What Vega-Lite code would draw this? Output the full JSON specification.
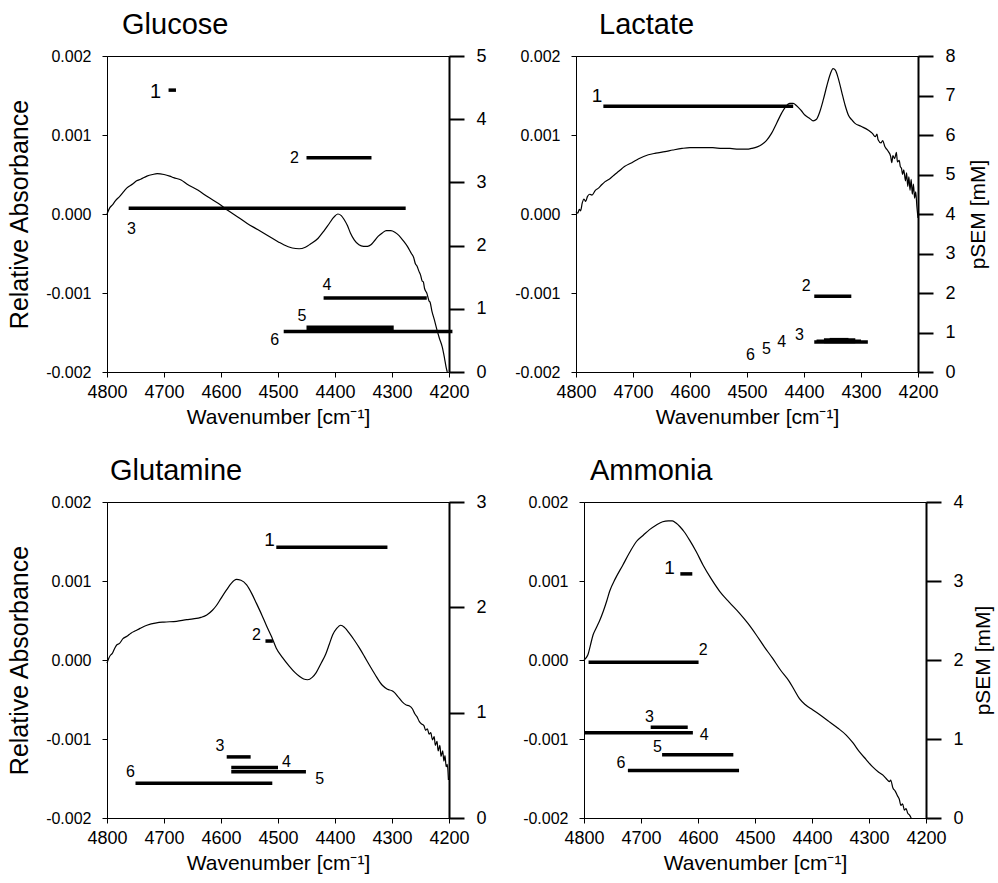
{
"$schema": "https://vega.github.io/schema/vega-lite/v6.json",
"background": "white",
"padding": {"left": 7, "top": 10, "right": 2, "bottom": 5},
"datasets": {
"spectra": [
{"p":"Glucose","wn":4800,"a":0.0},{"p":"Glucose","wn":4795,"a":0.00008},{"p":"Glucose","wn":4790,"a":0.00012},{"p":"Glucose","wn":4785,"a":0.00017},{"p":"Glucose","wn":4778,"a":0.00022},{"p":"Glucose","wn":4770,"a":0.00029},{"p":"Glucose","wn":4765,"a":0.00033},{"p":"Glucose","wn":4755,"a":0.00038},{"p":"Glucose","wn":4748,"a":0.00042},{"p":"Glucose","wn":4741,"a":0.00044},{"p":"Glucose","wn":4730,"a":0.00048},{"p":"Glucose","wn":4720,"a":0.0005},{"p":"Glucose","wn":4712,"a":0.00051},{"p":"Glucose","wn":4700,"a":0.0005},{"p":"Glucose","wn":4690,"a":0.00048},{"p":"Glucose","wn":4683,"a":0.00046},{"p":"Glucose","wn":4670,"a":0.00043},{"p":"Glucose","wn":4660,"a":0.00038},{"p":"Glucose","wn":4640,"a":0.0003},{"p":"Glucose","wn":4624,"a":0.00022},{"p":"Glucose","wn":4600,"a":0.00011},{"p":"Glucose","wn":4589,"a":0.00005},{"p":"Glucose","wn":4570,"a":-0.00004},{"p":"Glucose","wn":4554,"a":-0.00012},{"p":"Glucose","wn":4535,"a":-0.0002},{"p":"Glucose","wn":4519,"a":-0.00027},{"p":"Glucose","wn":4500,"a":-0.00035},{"p":"Glucose","wn":4490,"a":-0.00039},{"p":"Glucose","wn":4475,"a":-0.00043},{"p":"Glucose","wn":4463,"a":-0.00044},{"p":"Glucose","wn":4452,"a":-0.00042},{"p":"Glucose","wn":4443,"a":-0.00038},{"p":"Glucose","wn":4430,"a":-0.00031},{"p":"Glucose","wn":4419,"a":-0.00021},{"p":"Glucose","wn":4410,"a":-0.00012},{"p":"Glucose","wn":4402,"a":-0.00004},{"p":"Glucose","wn":4395,"a":0.0},{"p":"Glucose","wn":4389,"a":-0.00002},{"p":"Glucose","wn":4384,"a":-0.00007},{"p":"Glucose","wn":4378,"a":-0.00015},{"p":"Glucose","wn":4373,"a":-0.00024},{"p":"Glucose","wn":4366,"a":-0.00033},{"p":"Glucose","wn":4358,"a":-0.00039},{"p":"Glucose","wn":4350,"a":-0.00041},{"p":"Glucose","wn":4343,"a":-0.00041},{"p":"Glucose","wn":4337,"a":-0.00039},{"p":"Glucose","wn":4332,"a":-0.00035},{"p":"Glucose","wn":4324,"a":-0.00028},{"p":"Glucose","wn":4317,"a":-0.00024},{"p":"Glucose","wn":4310,"a":-0.00021},{"p":"Glucose","wn":4302,"a":-0.00021},{"p":"Glucose","wn":4295,"a":-0.00023},{"p":"Glucose","wn":4288,"a":-0.00027},{"p":"Glucose","wn":4280,"a":-0.00034},{"p":"Glucose","wn":4273,"a":-0.00041},{"p":"Glucose","wn":4266,"a":-0.0005},{"p":"Glucose","wn":4262,"a":-0.00055},{"p":"Glucose","wn":4259,"a":-0.00063},{"p":"Glucose","wn":4256,"a":-0.00066},{"p":"Glucose","wn":4253,"a":-0.00072},{"p":"Glucose","wn":4250,"a":-0.00077},{"p":"Glucose","wn":4247,"a":-0.00085},{"p":"Glucose","wn":4245,"a":-0.00086},{"p":"Glucose","wn":4243,"a":-0.00094},{"p":"Glucose","wn":4239,"a":-0.001},{"p":"Glucose","wn":4235,"a":-0.0011},{"p":"Glucose","wn":4233,"a":-0.00112},{"p":"Glucose","wn":4230,"a":-0.00123},{"p":"Glucose","wn":4226,"a":-0.00133},{"p":"Glucose","wn":4221,"a":-0.00147},{"p":"Glucose","wn":4217,"a":-0.00157},{"p":"Glucose","wn":4212,"a":-0.00168},{"p":"Glucose","wn":4208,"a":-0.00182},{"p":"Glucose","wn":4205,"a":-0.00194},{"p":"Glucose","wn":4203,"a":-0.002},
{"p":"Lactate","wn":4800,"a":0.00003},{"p":"Lactate","wn":4797,"a":0.00001},{"p":"Lactate","wn":4794,"a":0.00006},{"p":"Lactate","wn":4792,"a":0.00004},{"p":"Lactate","wn":4789,"a":0.00014},{"p":"Lactate","wn":4786,"a":0.00019},{"p":"Lactate","wn":4783,"a":0.00016},{"p":"Lactate","wn":4780,"a":0.00022},{"p":"Lactate","wn":4776,"a":0.00025},{"p":"Lactate","wn":4772,"a":0.00024},{"p":"Lactate","wn":4766,"a":0.0003},{"p":"Lactate","wn":4760,"a":0.00033},{"p":"Lactate","wn":4755,"a":0.00037},{"p":"Lactate","wn":4749,"a":0.00041},{"p":"Lactate","wn":4740,"a":0.00045},{"p":"Lactate","wn":4732,"a":0.0005},{"p":"Lactate","wn":4725,"a":0.00054},{"p":"Lactate","wn":4715,"a":0.0006},{"p":"Lactate","wn":4702,"a":0.00065},{"p":"Lactate","wn":4690,"a":0.0007},{"p":"Lactate","wn":4673,"a":0.00075},{"p":"Lactate","wn":4660,"a":0.00077},{"p":"Lactate","wn":4644,"a":0.00079},{"p":"Lactate","wn":4630,"a":0.00081},{"p":"Lactate","wn":4614,"a":0.00083},{"p":"Lactate","wn":4600,"a":0.00084},{"p":"Lactate","wn":4579,"a":0.00084},{"p":"Lactate","wn":4560,"a":0.00084},{"p":"Lactate","wn":4544,"a":0.00083},{"p":"Lactate","wn":4530,"a":0.00083},{"p":"Lactate","wn":4515,"a":0.00082},{"p":"Lactate","wn":4500,"a":0.00082},{"p":"Lactate","wn":4492,"a":0.00083},{"p":"Lactate","wn":4482,"a":0.00085},{"p":"Lactate","wn":4474,"a":0.00088},{"p":"Lactate","wn":4466,"a":0.00093},{"p":"Lactate","wn":4457,"a":0.00102},{"p":"Lactate","wn":4448,"a":0.00115},{"p":"Lactate","wn":4439,"a":0.00128},{"p":"Lactate","wn":4432,"a":0.00136},{"p":"Lactate","wn":4425,"a":0.0014},{"p":"Lactate","wn":4419,"a":0.0014},{"p":"Lactate","wn":4413,"a":0.00137},{"p":"Lactate","wn":4405,"a":0.00131},{"p":"Lactate","wn":4398,"a":0.00125},{"p":"Lactate","wn":4390,"a":0.00121},{"p":"Lactate","wn":4384,"a":0.00118},{"p":"Lactate","wn":4378,"a":0.0012},{"p":"Lactate","wn":4372,"a":0.0013},{"p":"Lactate","wn":4366,"a":0.00145},{"p":"Lactate","wn":4360,"a":0.00162},{"p":"Lactate","wn":4354,"a":0.00177},{"p":"Lactate","wn":4349,"a":0.00184},{"p":"Lactate","wn":4345,"a":0.00182},{"p":"Lactate","wn":4340,"a":0.00172},{"p":"Lactate","wn":4334,"a":0.00155},{"p":"Lactate","wn":4328,"a":0.00138},{"p":"Lactate","wn":4322,"a":0.00125},{"p":"Lactate","wn":4316,"a":0.00119},{"p":"Lactate","wn":4311,"a":0.00115},{"p":"Lactate","wn":4300,"a":0.00111},{"p":"Lactate","wn":4287,"a":0.00106},{"p":"Lactate","wn":4280,"a":0.00102},{"p":"Lactate","wn":4275,"a":0.00098},{"p":"Lactate","wn":4272,"a":0.00101},{"p":"Lactate","wn":4270,"a":0.00094},{"p":"Lactate","wn":4265,"a":0.0009},{"p":"Lactate","wn":4262,"a":0.00093},{"p":"Lactate","wn":4258,"a":0.00085},{"p":"Lactate","wn":4255,"a":0.00082},{"p":"Lactate","wn":4252,"a":0.00079},{"p":"Lactate","wn":4248,"a":0.00073},{"p":"Lactate","wn":4246,"a":0.00065},{"p":"Lactate","wn":4244,"a":0.00074},{"p":"Lactate","wn":4241,"a":0.0007},{"p":"Lactate","wn":4238,"a":0.00078},{"p":"Lactate","wn":4236,"a":0.00066},{"p":"Lactate","wn":4233,"a":0.00068},{"p":"Lactate","wn":4231,"a":0.0006},{"p":"Lactate","wn":4229,"a":0.00058},{"p":"Lactate","wn":4227,"a":0.0005},{"p":"Lactate","wn":4225,"a":0.00056},{"p":"Lactate","wn":4222,"a":0.00042},{"p":"Lactate","wn":4220,"a":0.00052},{"p":"Lactate","wn":4218,"a":0.00035},{"p":"Lactate","wn":4216,"a":0.00047},{"p":"Lactate","wn":4214,"a":0.0003},{"p":"Lactate","wn":4212,"a":0.00044},{"p":"Lactate","wn":4210,"a":0.00025},{"p":"Lactate","wn":4208,"a":0.00038},{"p":"Lactate","wn":4206,"a":0.0002},{"p":"Lactate","wn":4204,"a":0.00028},{"p":"Lactate","wn":4202,"a":0.0001},{"p":"Lactate","wn":4200,"a":-0.00005},
{"p":"Glutamine","wn":4800,"a":-0.00004},{"p":"Glutamine","wn":4797,"a":0.00002},{"p":"Glutamine","wn":4794,"a":0.00006},{"p":"Glutamine","wn":4791,"a":0.00008},{"p":"Glutamine","wn":4787,"a":0.00014},{"p":"Glutamine","wn":4783,"a":0.00019},{"p":"Glutamine","wn":4778,"a":0.00021},{"p":"Glutamine","wn":4772,"a":0.00027},{"p":"Glutamine","wn":4765,"a":0.0003},{"p":"Glutamine","wn":4758,"a":0.00034},{"p":"Glutamine","wn":4750,"a":0.00037},{"p":"Glutamine","wn":4742,"a":0.0004},{"p":"Glutamine","wn":4730,"a":0.00044},{"p":"Glutamine","wn":4713,"a":0.00047},{"p":"Glutamine","wn":4700,"a":0.00048},{"p":"Glutamine","wn":4678,"a":0.00049},{"p":"Glutamine","wn":4660,"a":0.00051},{"p":"Glutamine","wn":4649,"a":0.00052},{"p":"Glutamine","wn":4635,"a":0.00054},{"p":"Glutamine","wn":4625,"a":0.00057},{"p":"Glutamine","wn":4615,"a":0.00063},{"p":"Glutamine","wn":4608,"a":0.00069},{"p":"Glutamine","wn":4600,"a":0.00078},{"p":"Glutamine","wn":4590,"a":0.00089},{"p":"Glutamine","wn":4582,"a":0.00097},{"p":"Glutamine","wn":4573,"a":0.00102},{"p":"Glutamine","wn":4565,"a":0.00101},{"p":"Glutamine","wn":4555,"a":0.00095},{"p":"Glutamine","wn":4546,"a":0.00084},{"p":"Glutamine","wn":4538,"a":0.00072},{"p":"Glutamine","wn":4529,"a":0.00058},{"p":"Glutamine","wn":4520,"a":0.00043},{"p":"Glutamine","wn":4511,"a":0.00029},{"p":"Glutamine","wn":4503,"a":0.00015},{"p":"Glutamine","wn":4492,"a":0.00003},{"p":"Glutamine","wn":4480,"a":-0.00008},{"p":"Glutamine","wn":4470,"a":-0.00016},{"p":"Glutamine","wn":4462,"a":-0.00021},{"p":"Glutamine","wn":4455,"a":-0.00024},{"p":"Glutamine","wn":4448,"a":-0.00025},{"p":"Glutamine","wn":4440,"a":-0.00022},{"p":"Glutamine","wn":4433,"a":-0.00016},{"p":"Glutamine","wn":4425,"a":-0.00005},{"p":"Glutamine","wn":4416,"a":0.00008},{"p":"Glutamine","wn":4410,"a":0.0002},{"p":"Glutamine","wn":4404,"a":0.00032},{"p":"Glutamine","wn":4397,"a":0.0004},{"p":"Glutamine","wn":4390,"a":0.00044},{"p":"Glutamine","wn":4383,"a":0.00041},{"p":"Glutamine","wn":4375,"a":0.00034},{"p":"Glutamine","wn":4366,"a":0.00025},{"p":"Glutamine","wn":4357,"a":0.00015},{"p":"Glutamine","wn":4348,"a":0.00004},{"p":"Glutamine","wn":4340,"a":-0.00006},{"p":"Glutamine","wn":4330,"a":-0.00018},{"p":"Glutamine","wn":4317,"a":-0.00032},{"p":"Glutamine","wn":4308,"a":-0.00037},{"p":"Glutamine","wn":4300,"a":-0.00039},{"p":"Glutamine","wn":4296,"a":-0.00041},{"p":"Glutamine","wn":4290,"a":-0.00046},{"p":"Glutamine","wn":4282,"a":-0.00053},{"p":"Glutamine","wn":4275,"a":-0.00057},{"p":"Glutamine","wn":4270,"a":-0.00058},{"p":"Glutamine","wn":4264,"a":-0.00062},{"p":"Glutamine","wn":4260,"a":-0.00068},{"p":"Glutamine","wn":4256,"a":-0.00072},{"p":"Glutamine","wn":4252,"a":-0.00078},{"p":"Glutamine","wn":4248,"a":-0.00081},{"p":"Glutamine","wn":4244,"a":-0.00083},{"p":"Glutamine","wn":4241,"a":-0.00089},{"p":"Glutamine","wn":4238,"a":-0.00087},{"p":"Glutamine","wn":4235,"a":-0.00094},{"p":"Glutamine","wn":4232,"a":-0.00092},{"p":"Glutamine","wn":4229,"a":-0.00101},{"p":"Glutamine","wn":4226,"a":-0.00097},{"p":"Glutamine","wn":4224,"a":-0.00108},{"p":"Glutamine","wn":4221,"a":-0.00103},{"p":"Glutamine","wn":4219,"a":-0.00115},{"p":"Glutamine","wn":4216,"a":-0.00108},{"p":"Glutamine","wn":4214,"a":-0.00122},{"p":"Glutamine","wn":4211,"a":-0.00115},{"p":"Glutamine","wn":4209,"a":-0.00128},{"p":"Glutamine","wn":4207,"a":-0.00121},{"p":"Glutamine","wn":4205,"a":-0.00135},{"p":"Glutamine","wn":4203,"a":-0.00132},{"p":"Glutamine","wn":4201,"a":-0.00152},
{"p":"Ammonia","wn":4800,"a":0.0},{"p":"Ammonia","wn":4796,"a":0.00003},{"p":"Ammonia","wn":4793,"a":0.00007},{"p":"Ammonia","wn":4789,"a":0.00018},{"p":"Ammonia","wn":4784,"a":0.00032},{"p":"Ammonia","wn":4779,"a":0.0004},{"p":"Ammonia","wn":4773,"a":0.00049},{"p":"Ammonia","wn":4766,"a":0.00062},{"p":"Ammonia","wn":4760,"a":0.00075},{"p":"Ammonia","wn":4755,"a":0.00087},{"p":"Ammonia","wn":4745,"a":0.00103},{"p":"Ammonia","wn":4732,"a":0.0012},{"p":"Ammonia","wn":4720,"a":0.00136},{"p":"Ammonia","wn":4708,"a":0.0015},{"p":"Ammonia","wn":4696,"a":0.00158},{"p":"Ammonia","wn":4685,"a":0.00165},{"p":"Ammonia","wn":4673,"a":0.00171},{"p":"Ammonia","wn":4662,"a":0.00175},{"p":"Ammonia","wn":4652,"a":0.00176},{"p":"Ammonia","wn":4645,"a":0.00176},{"p":"Ammonia","wn":4638,"a":0.00173},{"p":"Ammonia","wn":4632,"a":0.00169},{"p":"Ammonia","wn":4624,"a":0.00162},{"p":"Ammonia","wn":4615,"a":0.00152},{"p":"Ammonia","wn":4603,"a":0.00137},{"p":"Ammonia","wn":4591,"a":0.0012},{"p":"Ammonia","wn":4577,"a":0.00103},{"p":"Ammonia","wn":4562,"a":0.00087},{"p":"Ammonia","wn":4545,"a":0.00073},{"p":"Ammonia","wn":4527,"a":0.00059},{"p":"Ammonia","wn":4512,"a":0.00046},{"p":"Ammonia","wn":4498,"a":0.00032},{"p":"Ammonia","wn":4484,"a":0.00017},{"p":"Ammonia","wn":4469,"a":0.00002},{"p":"Ammonia","wn":4455,"a":-0.00013},{"p":"Ammonia","wn":4440,"a":-0.00027},{"p":"Ammonia","wn":4431,"a":-0.00038},{"p":"Ammonia","wn":4422,"a":-0.00049},{"p":"Ammonia","wn":4411,"a":-0.00057},{"p":"Ammonia","wn":4399,"a":-0.00063},{"p":"Ammonia","wn":4385,"a":-0.0007},{"p":"Ammonia","wn":4370,"a":-0.00078},{"p":"Ammonia","wn":4355,"a":-0.00086},{"p":"Ammonia","wn":4340,"a":-0.00095},{"p":"Ammonia","wn":4328,"a":-0.00105},{"p":"Ammonia","wn":4317,"a":-0.00116},{"p":"Ammonia","wn":4305,"a":-0.00126},{"p":"Ammonia","wn":4294,"a":-0.00135},{"p":"Ammonia","wn":4283,"a":-0.00142},{"p":"Ammonia","wn":4275,"a":-0.00146},{"p":"Ammonia","wn":4270,"a":-0.0015},{"p":"Ammonia","wn":4264,"a":-0.00154},{"p":"Ammonia","wn":4262,"a":-0.00152},{"p":"Ammonia","wn":4258,"a":-0.00162},{"p":"Ammonia","wn":4254,"a":-0.00166},{"p":"Ammonia","wn":4250,"a":-0.00172},{"p":"Ammonia","wn":4247,"a":-0.00176},{"p":"Ammonia","wn":4244,"a":-0.00184},{"p":"Ammonia","wn":4241,"a":-0.00182},{"p":"Ammonia","wn":4238,"a":-0.0019},{"p":"Ammonia","wn":4235,"a":-0.00188},{"p":"Ammonia","wn":4232,"a":-0.00194},{"p":"Ammonia","wn":4229,"a":-0.00196},{"p":"Ammonia","wn":4226,"a":-0.002}
],
"bars": [
{"p":"Glucose","n":"1","x1":4692,"x2":4679,"y":4.46,"lx":4715,"ly":4.43},
{"p":"Glucose","n":"2","x1":4450,"x2":4336,"y":3.39,"lx":4471,"ly":3.38},
{"p":"Glucose","n":"3","x1":4762,"x2":4276,"y":2.59,"lx":4757,"ly":2.26},
{"p":"Glucose","n":"4","x1":4420,"x2":4239,"y":1.17,"lx":4414,"ly":1.38},
{"p":"Glucose","n":"5","x1":4450,"x2":4297,"y":0.69,"lx":4458,"ly":0.89},
{"p":"Glucose","n":"6","x1":4490,"x2":4194,"y":0.64,"lx":4506,"ly":0.5},
{"p":"Lactate","n":"1","x1":4752,"x2":4419,"y":6.73,"lx":4763,"ly":6.98},
{"p":"Lactate","n":"2","x1":4382,"x2":4317,"y":1.92,"lx":4396,"ly":2.17},
{"p":"Lactate","n":"3","x1":4382,"x2":4288,"y":0.76,"lx":4408,"ly":0.93},
{"p":"Lactate","n":"4","x1":4378,"x2":4300,"y":0.78,"lx":4439,"ly":0.76},
{"p":"Lactate","n":"5","x1":4365,"x2":4310,"y":0.79,"lx":4466,"ly":0.59},
{"p":"Lactate","n":"6","x1":4355,"x2":4322,"y":0.8,"lx":4494,"ly":0.44},
{"p":"Glutamine","n":"1","x1":4503,"x2":4308,"y":2.57,"lx":4515,"ly":2.64},
{"p":"Glutamine","n":"2","x1":4522,"x2":4509,"y":1.68,"lx":4538,"ly":1.74},
{"p":"Glutamine","n":"3","x1":4590,"x2":4548,"y":0.58,"lx":4602,"ly":0.68},
{"p":"Glutamine","n":"4","x1":4582,"x2":4500,"y":0.48,"lx":4485,"ly":0.53},
{"p":"Glutamine","n":"5","x1":4582,"x2":4451,"y":0.44,"lx":4427,"ly":0.37},
{"p":"Glutamine","n":"6","x1":4750,"x2":4510,"y":0.33,"lx":4759,"ly":0.44},
{"p":"Ammonia","n":"1","x1":4631,"x2":4610,"y":3.09,"lx":4650,"ly":3.16},
{"p":"Ammonia","n":"2","x1":4792,"x2":4599,"y":1.97,"lx":4591,"ly":2.13},
{"p":"Ammonia","n":"3","x1":4683,"x2":4618,"y":1.15,"lx":4685,"ly":1.28},
{"p":"Ammonia","n":"4","x1":4800,"x2":4609,"y":1.08,"lx":4589,"ly":1.05},
{"p":"Ammonia","n":"5","x1":4663,"x2":4538,"y":0.8,"lx":4671,"ly":0.9},
{"p":"Ammonia","n":"6","x1":4723,"x2":4528,"y":0.6,"lx":4735,"ly":0.69}
]
},
"spacing": 28,
"vconcat": [
{"spacing": 27, "hconcat": [
{"width": 342, "height": 316, "title": {"text": "Glucose", "dx": 15},
 "layer": [
  {"data": {"name": "spectra"}, "transform": [{"filter": "datum.p == 'Glucose'"}],
   "mark": {"type": "line", "color": "black", "strokeWidth": 1.2, "interpolate": "monotone"},
   "encoding": {
    "x": {"field": "wn", "type": "quantitative", "scale": {"domain": [4200, 4800], "reverse": true, "nice": false, "zero": false},
      "axis": {"orient": "bottom", "values": [4800,4700,4600,4500,4400,4300,4200], "labelExpr": "format(datum.value, '.0f')", "labelFontSize": 18, "tickSize": 5, "labelPadding": 6, "labelFlush": false, "labelOverlap": false, "title": "Wavenumber [cm⁻¹]", "titleFontSize": 21, "titlePadding": 5}},
    "y": {"field": "a", "type": "quantitative", "scale": {"domain": [-0.002, 0.002], "nice": false, "zero": false},
      "axis": {"orient": "left", "values": [-0.002,-0.001,0,0.001,0.002], "labelExpr": "datum.value < 0 ? '-' + format(-datum.value, '.3f') : format(datum.value, '.3f')", "labelFontSize": 16, "tickSize": 5, "labelPadding": 11, "labelFlush": false, "labelOverlap": false, "title": "Relative Absorbance", "titleFontSize": 25, "titlePadding": 13}}
   }},
  {"data": {"name": "bars"}, "transform": [{"filter": "datum.p == 'Glucose'"}],
   "mark": {"type": "rule", "color": "black", "strokeCap": "butt"},
   "encoding": {
    "x": {"field": "x1", "type": "quantitative"},
    "x2": {"field": "x2"},
    "y": {"field": "y", "type": "quantitative", "scale": {"domain": [0, 5], "nice": false},
      "axis": {"orient": "right", "values": [0,1,2,3,4,5], "labelExpr": "format(datum.value, '.0f')", "labelFontSize": 18, "tickSize": 15, "labelPadding": 12, "domainWidth": 2, "tickWidth": 2, "labelFlush": false, "labelOverlap": false, "title": null}},
    "strokeWidth": {"condition": {"test": "datum.n == '5'", "value": 6}, "value": 3.5}
   }},
  {"data": {"name": "bars"}, "transform": [{"filter": "datum.p == 'Glucose'"}],
   "mark": {"type": "text", "color": "black"},
   "encoding": {
    "x": {"field": "lx", "type": "quantitative"},
    "y": {"field": "ly", "type": "quantitative", "scale": {"domain": [0, 5], "nice": false}, "axis": null},
    "text": {"field": "n"},
    "size": {"condition": {"test": "datum.n == '1'", "value": 20}, "value": 16}
   }}
 ],
 "resolve": {"scale": {"y": "independent"}}
},
{"width": 342, "height": 316, "title": {"text": "Lactate", "dx": 23},
 "layer": [
  {"data": {"name": "spectra"}, "transform": [{"filter": "datum.p == 'Lactate'"}],
   "mark": {"type": "line", "color": "black", "strokeWidth": 1.2, "interpolate": "monotone"},
   "encoding": {
    "x": {"field": "wn", "type": "quantitative", "scale": {"domain": [4200, 4800], "reverse": true, "nice": false, "zero": false},
      "axis": {"orient": "bottom", "values": [4800,4700,4600,4500,4400,4300,4200], "labelExpr": "format(datum.value, '.0f')", "labelFontSize": 18, "tickSize": 5, "labelPadding": 6, "labelFlush": false, "labelOverlap": false, "title": "Wavenumber [cm⁻¹]", "titleFontSize": 21, "titlePadding": 5}},
    "y": {"field": "a", "type": "quantitative", "scale": {"domain": [-0.002, 0.002], "nice": false, "zero": false},
      "axis": {"orient": "left", "values": [-0.002,-0.001,0,0.001,0.002], "labelExpr": "datum.value < 0 ? '-' + format(-datum.value, '.3f') : format(datum.value, '.3f')", "labelFontSize": 16, "tickSize": 5, "labelPadding": 11, "labelFlush": false, "labelOverlap": false, "title": null}}
   }},
  {"data": {"name": "bars"}, "transform": [{"filter": "datum.p == 'Lactate'"}],
   "mark": {"type": "rule", "color": "black", "strokeCap": "butt"},
   "encoding": {
    "x": {"field": "x1", "type": "quantitative"},
    "x2": {"field": "x2"},
    "y": {"field": "y", "type": "quantitative", "scale": {"domain": [0, 8], "nice": false},
      "axis": {"orient": "right", "values": [0,1,2,3,4,5,6,7,8], "labelExpr": "format(datum.value, '.0f')", "labelFontSize": 18, "tickSize": 15, "labelPadding": 12, "domainWidth": 2, "tickWidth": 2, "labelFlush": false, "labelOverlap": false, "title": "pSEM [mM]", "titleFontSize": 21, "titleAngle": 270, "titleBaseline": "top", "titlePadding": 12}},
    "strokeWidth": {"condition": {"test": "datum.n == '5' || datum.n == '6'", "value": 5}, "value": 3.5}
   }},
  {"data": {"name": "bars"}, "transform": [{"filter": "datum.p == 'Lactate'"}],
   "mark": {"type": "text", "color": "black"},
   "encoding": {
    "x": {"field": "lx", "type": "quantitative"},
    "y": {"field": "ly", "type": "quantitative", "scale": {"domain": [0, 8], "nice": false}, "axis": null},
    "text": {"field": "n"},
    "size": {"condition": {"test": "datum.n == '1'", "value": 19}, "value": 16}
   }}
 ],
 "resolve": {"scale": {"y": "independent"}}
}
]},
{"spacing": 35, "hconcat": [
{"width": 342, "height": 316, "title": {"text": "Glutamine", "dx": 3},
 "layer": [
  {"data": {"name": "spectra"}, "transform": [{"filter": "datum.p == 'Glutamine'"}],
   "mark": {"type": "line", "color": "black", "strokeWidth": 1.2, "interpolate": "monotone"},
   "encoding": {
    "x": {"field": "wn", "type": "quantitative", "scale": {"domain": [4200, 4800], "reverse": true, "nice": false, "zero": false},
      "axis": {"orient": "bottom", "values": [4800,4700,4600,4500,4400,4300,4200], "labelExpr": "format(datum.value, '.0f')", "labelFontSize": 18, "tickSize": 5, "labelPadding": 6, "labelFlush": false, "labelOverlap": false, "title": "Wavenumber [cm⁻¹]", "titleFontSize": 21, "titlePadding": 5}},
    "y": {"field": "a", "type": "quantitative", "scale": {"domain": [-0.002, 0.002], "nice": false, "zero": false},
      "axis": {"orient": "left", "values": [-0.002,-0.001,0,0.001,0.002], "labelExpr": "datum.value < 0 ? '-' + format(-datum.value, '.3f') : format(datum.value, '.3f')", "labelFontSize": 16, "tickSize": 5, "labelPadding": 11, "labelFlush": false, "labelOverlap": false, "title": "Relative Absorbance", "titleFontSize": 25, "titlePadding": 13}}
   }},
  {"data": {"name": "bars"}, "transform": [{"filter": "datum.p == 'Glutamine'"}],
   "mark": {"type": "rule", "color": "black", "strokeCap": "butt", "strokeWidth": 3.5},
   "encoding": {
    "x": {"field": "x1", "type": "quantitative"},
    "x2": {"field": "x2"},
    "y": {"field": "y", "type": "quantitative", "scale": {"domain": [0, 3], "nice": false},
      "axis": {"orient": "right", "values": [0,1,2,3], "labelExpr": "format(datum.value, '.0f')", "labelFontSize": 18, "tickSize": 15, "labelPadding": 12, "domainWidth": 2, "tickWidth": 2, "labelFlush": false, "labelOverlap": false, "title": null}}
   }},
  {"data": {"name": "bars"}, "transform": [{"filter": "datum.p == 'Glutamine'"}],
   "mark": {"type": "text", "color": "black"},
   "encoding": {
    "x": {"field": "lx", "type": "quantitative"},
    "y": {"field": "ly", "type": "quantitative", "scale": {"domain": [0, 3], "nice": false}, "axis": null},
    "text": {"field": "n"},
    "size": {"condition": {"test": "datum.n == '1'", "value": 19}, "value": 16}
   }}
 ],
 "resolve": {"scale": {"y": "independent"}}
},
{"width": 342, "height": 316, "title": {"text": "Ammonia", "dx": 6},
 "layer": [
  {"data": {"name": "spectra"}, "transform": [{"filter": "datum.p == 'Ammonia'"}],
   "mark": {"type": "line", "color": "black", "strokeWidth": 1.2, "interpolate": "monotone"},
   "encoding": {
    "x": {"field": "wn", "type": "quantitative", "scale": {"domain": [4200, 4800], "reverse": true, "nice": false, "zero": false},
      "axis": {"orient": "bottom", "values": [4800,4700,4600,4500,4400,4300,4200], "labelExpr": "format(datum.value, '.0f')", "labelFontSize": 18, "tickSize": 5, "labelPadding": 6, "labelFlush": false, "labelOverlap": false, "title": "Wavenumber [cm⁻¹]", "titleFontSize": 21, "titlePadding": 5}},
    "y": {"field": "a", "type": "quantitative", "scale": {"domain": [-0.002, 0.002], "nice": false, "zero": false},
      "axis": {"orient": "left", "values": [-0.002,-0.001,0,0.001,0.002], "labelExpr": "datum.value < 0 ? '-' + format(-datum.value, '.3f') : format(datum.value, '.3f')", "labelFontSize": 16, "tickSize": 5, "labelPadding": 11, "labelFlush": false, "labelOverlap": false, "title": null}}
   }},
  {"data": {"name": "bars"}, "transform": [{"filter": "datum.p == 'Ammonia'"}],
   "mark": {"type": "rule", "color": "black", "strokeCap": "butt", "strokeWidth": 3.5},
   "encoding": {
    "x": {"field": "x1", "type": "quantitative"},
    "x2": {"field": "x2"},
    "y": {"field": "y", "type": "quantitative", "scale": {"domain": [0, 4], "nice": false},
      "axis": {"orient": "right", "values": [0,1,2,3,4], "labelExpr": "format(datum.value, '.0f')", "labelFontSize": 18, "tickSize": 15, "labelPadding": 12, "domainWidth": 2, "tickWidth": 2, "labelFlush": false, "labelOverlap": false, "title": "pSEM [mM]", "titleFontSize": 21, "titleAngle": 270, "titleBaseline": "top", "titlePadding": 9}}
   }},
  {"data": {"name": "bars"}, "transform": [{"filter": "datum.p == 'Ammonia'"}],
   "mark": {"type": "text", "color": "black"},
   "encoding": {
    "x": {"field": "lx", "type": "quantitative"},
    "y": {"field": "ly", "type": "quantitative", "scale": {"domain": [0, 4], "nice": false}, "axis": null},
    "text": {"field": "n"},
    "size": {"condition": {"test": "datum.n == '1'", "value": 19}, "value": 16}
   }}
 ],
 "resolve": {"scale": {"y": "independent"}}
}
]}
],
"config": {
 "font": "Liberation Sans",
 "view": {"stroke": "black", "strokeWidth": 1},
 "axis": {"grid": false, "domainColor": "black", "tickColor": "black", "labelColor": "black", "titleColor": "black", "titleFontWeight": "normal", "labelFont": "Liberation Sans", "titleFont": "Liberation Sans"},
 "title": {"font": "Liberation Sans", "fontWeight": "normal", "fontSize": 29, "anchor": "start", "frame": "group", "color": "black", "baseline": "alphabetic", "offset": 7}
}
}
